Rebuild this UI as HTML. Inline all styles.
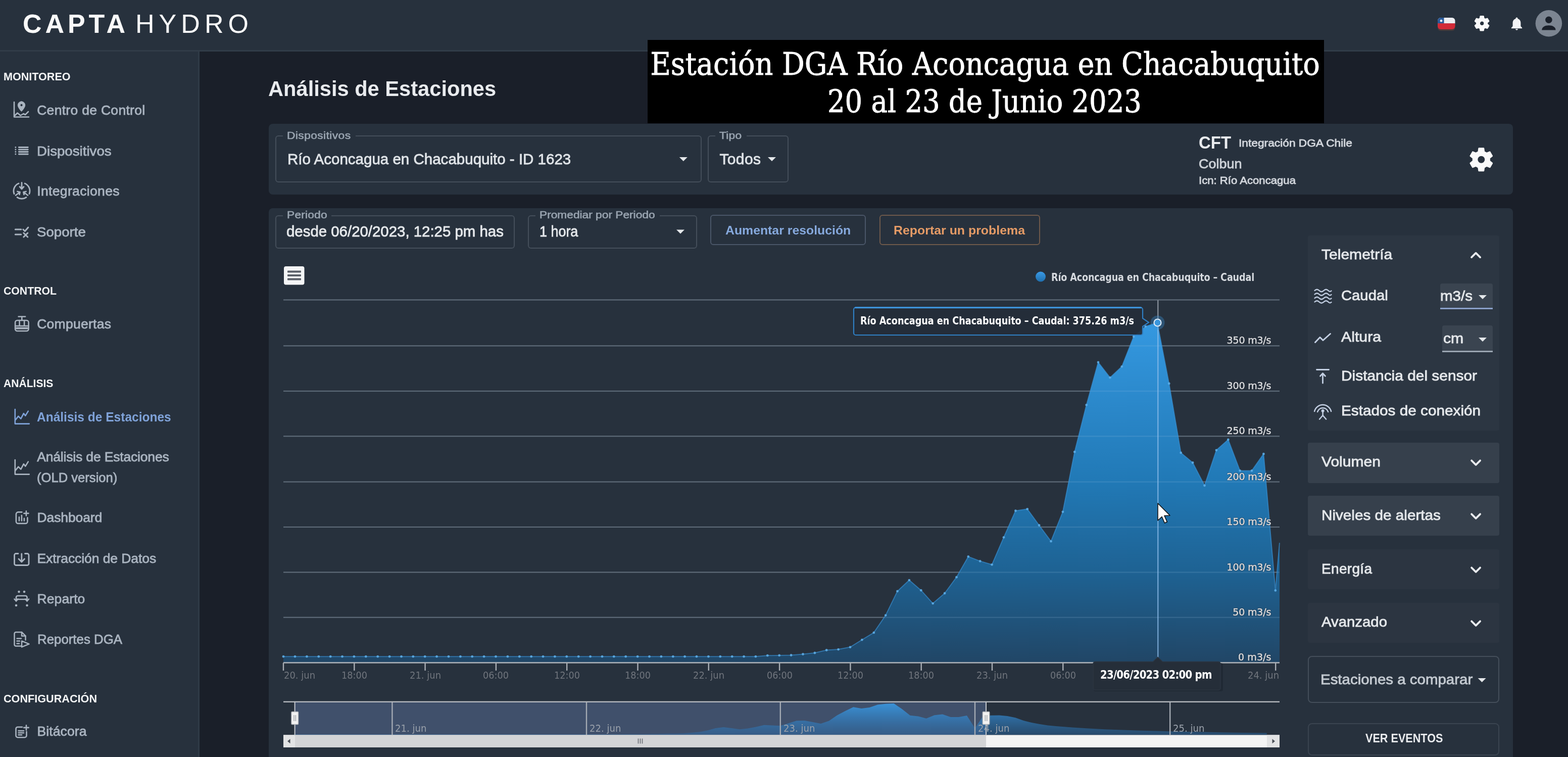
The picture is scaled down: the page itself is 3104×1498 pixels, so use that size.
<!DOCTYPE html>
<html lang="es"><head><meta charset="utf-8"><title>Captahydro - Análisis de Estaciones</title>
<style>
html,body{margin:0;padding:0}
body{width:3104px;height:1498px;overflow:hidden;background:#1a1f29;position:relative;font-family:"Liberation Sans",sans-serif}
.abs,.t,svg.ic{position:absolute}
.t{white-space:pre;line-height:1;transform-origin:0 50%;font-family:"Liberation Sans",sans-serif}
#header{left:0;top:0;width:3104px;height:99px;background:#27313d;border-bottom:3px solid #313c48}
#sidebar{left:0;top:102px;width:391.5px;height:1396px;background:#27313d;border-right:3.5px solid #2f3a46}
#banner{left:1281.5px;top:78.7px;width:1339px;height:165.2px;background:#000}
.card{background:#27313d;border-radius:8px}
#card1{left:532px;top:245px;width:2463px;height:140px}
#card2{left:532px;top:412px;width:2463px;height:1100px}
.field{border:2px solid #444e5a;border-radius:6px;box-sizing:border-box}
.lblbg{background:#27313d}
.panel{background:#343e4a;border-radius:4px}
.btn{box-sizing:border-box;border-radius:6px}
#texts{position:absolute;left:0;top:0;width:3104px;height:1498px}
#texts,#gfx{filter:blur(0.45px)}

</style></head>
<body>
<div id="header" class="abs"></div>
<div id="sidebar" class="abs"></div>
<div id="card1" class="abs card"></div>
<div id="card2" class="abs card"></div>
<div id="banner" class="abs"></div>
<!-- card1 fields -->
<div class="abs field" style="left:545px;top:268px;width:843.5px;height:92.6px"></div>
<div class="abs lblbg" style="left:560px;top:264px;width:144px;height:10px"></div>
<div class="abs field" style="left:1401px;top:268px;width:159.5px;height:92.6px"></div>
<div class="abs lblbg" style="left:1416px;top:264px;width:62px;height:10px"></div>
<!-- card2 fields -->
<div class="abs field" style="left:545px;top:426px;width:474px;height:66px"></div>
<div class="abs lblbg" style="left:560px;top:422px;width:96px;height:10px"></div>
<div class="abs field" style="left:1045px;top:426px;width:335px;height:66px"></div>
<div class="abs lblbg" style="left:1060px;top:422px;width:246px;height:10px"></div>
<div class="abs btn" style="left:1406px;top:425px;width:308px;height:60px;border:2px solid #4a5668"></div>
<div class="abs btn" style="left:1741px;top:425px;width:318px;height:60px;border:2px solid #6e594b"></div>
<!-- right panel -->
<div class="abs panel" style="left:2589px;top:466px;width:379px;height:386px;background:#2c3642"></div>
<div class="abs" style="left:2851px;top:561px;width:104px;height:48px;background:#3a4450;border-bottom:3px solid #8aa0c8;border-radius:4px 4px 0 0"></div>
<div class="abs" style="left:2855px;top:644px;width:100px;height:50px;background:#3a4450;border-bottom:3px solid #9aa5b1;border-radius:4px 4px 0 0"></div>
<div class="abs panel" style="left:2589px;top:876px;width:379px;height:80px;background:#36404c"></div>
<div class="abs panel" style="left:2589px;top:981px;width:379px;height:79px;background:#36404c"></div>
<div class="abs panel" style="left:2589px;top:1087px;width:379px;height:79px;background:#2c3541"></div>
<div class="abs panel" style="left:2589px;top:1193px;width:379px;height:79px;background:#2c3541"></div>
<div class="abs field" style="left:2589px;top:1298px;width:379px;height:93px;border-radius:8px"></div>
<div class="abs field" style="left:2589px;top:1431px;width:379px;height:63.5px;border-color:#3a4450;border-radius:8px"></div>
<svg id="gfx" class="abs" style="left:0;top:0" width="3104" height="1498" viewBox="0 0 3104 1498">
<defs><linearGradient id="ag" gradientUnits="userSpaceOnUse" x1="0" y1="593" x2="0" y2="1311"><stop offset="0" stop-color="#3aa0ea"/><stop offset="0.07" stop-color="#3498e0"/><stop offset="0.3" stop-color="#2a87c9"/><stop offset="0.5" stop-color="#2179b6"/><stop offset="0.75" stop-color="#1e6293"/><stop offset="1" stop-color="#214666"/></linearGradient><linearGradient id="ng" gradientUnits="userSpaceOnUse" x1="0" y1="1390" x2="0" y2="1455"><stop offset="0" stop-color="#3a9ae4"/><stop offset="1" stop-color="#2a6fae" stop-opacity="0.45"/></linearGradient><linearGradient id="lg" x1="0" y1="0" x2="0" y2="1"><stop offset="0" stop-color="#3a9ae6"/><stop offset="1" stop-color="#1f6fae"/></linearGradient></defs>
<rect x="561.0" y="592.4" width="1972.0" height="2" fill="#535a64"/>
<rect x="561.0" y="683.3" width="1972.0" height="2" fill="#535a64"/>
<rect x="561.0" y="772.9" width="1972.0" height="2" fill="#535a64"/>
<rect x="561.0" y="862.2" width="1972.0" height="2" fill="#535a64"/>
<rect x="561.0" y="952.5" width="1972.0" height="2" fill="#535a64"/>
<rect x="561.0" y="1041.9" width="1972.0" height="2" fill="#535a64"/>
<rect x="561.0" y="1131.4" width="1972.0" height="2" fill="#535a64"/>
<rect x="561.0" y="1220.7" width="1972.0" height="2" fill="#535a64"/>
<path d="M561.0,1311.3 L561.0,1299.2 L584.0,1299.2 L607.4,1299.2 L630.8,1299.2 L654.2,1299.2 L677.5,1299.2 L700.9,1299.2 L724.3,1299.2 L747.7,1299.2 L771.1,1299.2 L794.5,1299.2 L817.8,1299.2 L841.2,1299.2 L864.6,1299.2 L888.0,1299.2 L911.4,1299.2 L934.7,1299.2 L958.1,1299.2 L981.5,1299.2 L1004.9,1299.2 L1028.3,1299.2 L1051.7,1299.2 L1075.0,1299.2 L1098.4,1299.2 L1121.8,1299.2 L1145.2,1299.2 L1168.6,1299.2 L1192.0,1299.2 L1215.3,1299.2 L1238.7,1299.2 L1262.1,1299.2 L1285.5,1299.2 L1308.9,1299.2 L1332.3,1299.2 L1355.6,1299.2 L1379.0,1299.2 L1402.4,1299.2 L1425.8,1299.2 L1449.2,1299.2 L1472.6,1299.2 L1495.9,1299.2 L1519.3,1297.2 L1542.7,1296.9 L1566.1,1296.5 L1589.5,1294.5 L1612.9,1292.0 L1636.2,1286.5 L1659.6,1285.1 L1683.0,1280.6 L1706.4,1266.1 L1729.8,1251.9 L1753.2,1217.6 L1776.5,1169.9 L1799.9,1148.1 L1823.3,1168.2 L1846.7,1194.1 L1870.1,1174.0 L1893.5,1142.2 L1916.8,1101.4 L1940.2,1110.4 L1963.6,1117.3 L1987.0,1063.3 L2010.4,1010.7 L2033.7,1007.3 L2057.1,1039.5 L2080.5,1071.2 L2103.9,1012.8 L2127.3,894.2 L2150.7,801.3 L2174.0,716.8 L2197.4,747.2 L2220.8,725.3 L2244.2,666.1 L2267.6,645.9 L2291.0,638.5 L2314.3,759.0 L2337.7,895.9 L2361.1,915.5 L2384.5,960.8 L2407.9,890.8 L2431.3,869.9 L2454.6,931.4 L2478.0,931.4 L2501.4,898.2 L2524.8,1168.4 L2533.0,1074.2 L2533.0,1311.3 Z" fill="url(#ag)"/>
<rect x="561.0" y="592.3" width="1972.0" height="2.4" fill="#9fc4e6" opacity="0.16"/>
<rect x="561.0" y="683.2" width="1972.0" height="2.4" fill="#9fc4e6" opacity="0.16"/>
<rect x="561.0" y="772.8" width="1972.0" height="2.4" fill="#9fc4e6" opacity="0.16"/>
<rect x="561.0" y="862.1" width="1972.0" height="2.4" fill="#9fc4e6" opacity="0.16"/>
<rect x="561.0" y="952.4" width="1972.0" height="2.4" fill="#9fc4e6" opacity="0.16"/>
<rect x="561.0" y="1041.8" width="1972.0" height="2.4" fill="#9fc4e6" opacity="0.16"/>
<rect x="561.0" y="1131.3" width="1972.0" height="2.4" fill="#9fc4e6" opacity="0.16"/>
<rect x="561.0" y="1220.6" width="1972.0" height="2.4" fill="#9fc4e6" opacity="0.16"/>
<polyline points="561.0,1299.2 584.0,1299.2 607.4,1299.2 630.8,1299.2 654.2,1299.2 677.5,1299.2 700.9,1299.2 724.3,1299.2 747.7,1299.2 771.1,1299.2 794.5,1299.2 817.8,1299.2 841.2,1299.2 864.6,1299.2 888.0,1299.2 911.4,1299.2 934.7,1299.2 958.1,1299.2 981.5,1299.2 1004.9,1299.2 1028.3,1299.2 1051.7,1299.2 1075.0,1299.2 1098.4,1299.2 1121.8,1299.2 1145.2,1299.2 1168.6,1299.2 1192.0,1299.2 1215.3,1299.2 1238.7,1299.2 1262.1,1299.2 1285.5,1299.2 1308.9,1299.2 1332.3,1299.2 1355.6,1299.2 1379.0,1299.2 1402.4,1299.2 1425.8,1299.2 1449.2,1299.2 1472.6,1299.2 1495.9,1299.2 1519.3,1297.2 1542.7,1296.9 1566.1,1296.5 1589.5,1294.5 1612.9,1292.0 1636.2,1286.5 1659.6,1285.1 1683.0,1280.6 1706.4,1266.1 1729.8,1251.9 1753.2,1217.6 1776.5,1169.9 1799.9,1148.1 1823.3,1168.2 1846.7,1194.1 1870.1,1174.0 1893.5,1142.2 1916.8,1101.4 1940.2,1110.4 1963.6,1117.3 1987.0,1063.3 2010.4,1010.7 2033.7,1007.3 2057.1,1039.5 2080.5,1071.2 2103.9,1012.8 2127.3,894.2 2150.7,801.3 2174.0,716.8 2197.4,747.2 2220.8,725.3 2244.2,666.1 2267.6,645.9 2291.0,638.5 2314.3,759.0 2337.7,895.9 2361.1,915.5 2384.5,960.8 2407.9,890.8 2431.3,869.9 2454.6,931.4 2478.0,931.4 2501.4,898.2 2524.8,1168.4 2533.0,1074.2" fill="none" stroke="#3a96dc" stroke-width="2" stroke-linejoin="round" opacity="0.6"/>
<circle cx="561.0" cy="1299.2" r="2.4" fill="#5fb0ea" opacity="0.85"/>
<circle cx="584.0" cy="1299.2" r="2.4" fill="#5fb0ea" opacity="0.85"/>
<circle cx="607.4" cy="1299.2" r="2.4" fill="#5fb0ea" opacity="0.85"/>
<circle cx="630.8" cy="1299.2" r="2.4" fill="#5fb0ea" opacity="0.85"/>
<circle cx="654.2" cy="1299.2" r="2.4" fill="#5fb0ea" opacity="0.85"/>
<circle cx="677.5" cy="1299.2" r="2.4" fill="#5fb0ea" opacity="0.85"/>
<circle cx="700.9" cy="1299.2" r="2.4" fill="#5fb0ea" opacity="0.85"/>
<circle cx="724.3" cy="1299.2" r="2.4" fill="#5fb0ea" opacity="0.85"/>
<circle cx="747.7" cy="1299.2" r="2.4" fill="#5fb0ea" opacity="0.85"/>
<circle cx="771.1" cy="1299.2" r="2.4" fill="#5fb0ea" opacity="0.85"/>
<circle cx="794.5" cy="1299.2" r="2.4" fill="#5fb0ea" opacity="0.85"/>
<circle cx="817.8" cy="1299.2" r="2.4" fill="#5fb0ea" opacity="0.85"/>
<circle cx="841.2" cy="1299.2" r="2.4" fill="#5fb0ea" opacity="0.85"/>
<circle cx="864.6" cy="1299.2" r="2.4" fill="#5fb0ea" opacity="0.85"/>
<circle cx="888.0" cy="1299.2" r="2.4" fill="#5fb0ea" opacity="0.85"/>
<circle cx="911.4" cy="1299.2" r="2.4" fill="#5fb0ea" opacity="0.85"/>
<circle cx="934.7" cy="1299.2" r="2.4" fill="#5fb0ea" opacity="0.85"/>
<circle cx="958.1" cy="1299.2" r="2.4" fill="#5fb0ea" opacity="0.85"/>
<circle cx="981.5" cy="1299.2" r="2.4" fill="#5fb0ea" opacity="0.85"/>
<circle cx="1004.9" cy="1299.2" r="2.4" fill="#5fb0ea" opacity="0.85"/>
<circle cx="1028.3" cy="1299.2" r="2.4" fill="#5fb0ea" opacity="0.85"/>
<circle cx="1051.7" cy="1299.2" r="2.4" fill="#5fb0ea" opacity="0.85"/>
<circle cx="1075.0" cy="1299.2" r="2.4" fill="#5fb0ea" opacity="0.85"/>
<circle cx="1098.4" cy="1299.2" r="2.4" fill="#5fb0ea" opacity="0.85"/>
<circle cx="1121.8" cy="1299.2" r="2.4" fill="#5fb0ea" opacity="0.85"/>
<circle cx="1145.2" cy="1299.2" r="2.4" fill="#5fb0ea" opacity="0.85"/>
<circle cx="1168.6" cy="1299.2" r="2.4" fill="#5fb0ea" opacity="0.85"/>
<circle cx="1192.0" cy="1299.2" r="2.4" fill="#5fb0ea" opacity="0.85"/>
<circle cx="1215.3" cy="1299.2" r="2.4" fill="#5fb0ea" opacity="0.85"/>
<circle cx="1238.7" cy="1299.2" r="2.4" fill="#5fb0ea" opacity="0.85"/>
<circle cx="1262.1" cy="1299.2" r="2.4" fill="#5fb0ea" opacity="0.85"/>
<circle cx="1285.5" cy="1299.2" r="2.4" fill="#5fb0ea" opacity="0.85"/>
<circle cx="1308.9" cy="1299.2" r="2.4" fill="#5fb0ea" opacity="0.85"/>
<circle cx="1332.3" cy="1299.2" r="2.4" fill="#5fb0ea" opacity="0.85"/>
<circle cx="1355.6" cy="1299.2" r="2.4" fill="#5fb0ea" opacity="0.85"/>
<circle cx="1379.0" cy="1299.2" r="2.4" fill="#5fb0ea" opacity="0.85"/>
<circle cx="1402.4" cy="1299.2" r="2.4" fill="#5fb0ea" opacity="0.85"/>
<circle cx="1425.8" cy="1299.2" r="2.4" fill="#5fb0ea" opacity="0.85"/>
<circle cx="1449.2" cy="1299.2" r="2.4" fill="#5fb0ea" opacity="0.85"/>
<circle cx="1472.6" cy="1299.2" r="2.4" fill="#5fb0ea" opacity="0.85"/>
<circle cx="1495.9" cy="1299.2" r="2.4" fill="#5fb0ea" opacity="0.85"/>
<circle cx="1519.3" cy="1297.2" r="2.4" fill="#5fb0ea" opacity="0.85"/>
<circle cx="1542.7" cy="1296.9" r="2.4" fill="#5fb0ea" opacity="0.85"/>
<circle cx="1566.1" cy="1296.5" r="2.4" fill="#5fb0ea" opacity="0.85"/>
<circle cx="1589.5" cy="1294.5" r="2.4" fill="#5fb0ea" opacity="0.85"/>
<circle cx="1612.9" cy="1292.0" r="2.4" fill="#5fb0ea" opacity="0.85"/>
<circle cx="1636.2" cy="1286.5" r="2.4" fill="#5fb0ea" opacity="0.85"/>
<circle cx="1659.6" cy="1285.1" r="2.4" fill="#5fb0ea" opacity="0.85"/>
<circle cx="1683.0" cy="1280.6" r="2.4" fill="#5fb0ea" opacity="0.85"/>
<circle cx="1706.4" cy="1266.1" r="2.4" fill="#5fb0ea" opacity="0.85"/>
<circle cx="1729.8" cy="1251.9" r="2.4" fill="#5fb0ea" opacity="0.85"/>
<circle cx="1753.2" cy="1217.6" r="2.4" fill="#5fb0ea" opacity="0.85"/>
<circle cx="1776.5" cy="1169.9" r="2.4" fill="#5fb0ea" opacity="0.85"/>
<circle cx="1799.9" cy="1148.1" r="2.4" fill="#5fb0ea" opacity="0.85"/>
<circle cx="1823.3" cy="1168.2" r="2.4" fill="#5fb0ea" opacity="0.85"/>
<circle cx="1846.7" cy="1194.1" r="2.4" fill="#5fb0ea" opacity="0.85"/>
<circle cx="1870.1" cy="1174.0" r="2.4" fill="#5fb0ea" opacity="0.85"/>
<circle cx="1893.5" cy="1142.2" r="2.4" fill="#5fb0ea" opacity="0.85"/>
<circle cx="1916.8" cy="1101.4" r="2.4" fill="#5fb0ea" opacity="0.85"/>
<circle cx="1940.2" cy="1110.4" r="2.4" fill="#5fb0ea" opacity="0.85"/>
<circle cx="1963.6" cy="1117.3" r="2.4" fill="#5fb0ea" opacity="0.85"/>
<circle cx="1987.0" cy="1063.3" r="2.4" fill="#5fb0ea" opacity="0.85"/>
<circle cx="2010.4" cy="1010.7" r="2.4" fill="#5fb0ea" opacity="0.85"/>
<circle cx="2033.7" cy="1007.3" r="2.4" fill="#5fb0ea" opacity="0.85"/>
<circle cx="2057.1" cy="1039.5" r="2.4" fill="#5fb0ea" opacity="0.85"/>
<circle cx="2080.5" cy="1071.2" r="2.4" fill="#5fb0ea" opacity="0.85"/>
<circle cx="2103.9" cy="1012.8" r="2.4" fill="#5fb0ea" opacity="0.85"/>
<circle cx="2127.3" cy="894.2" r="2.4" fill="#5fb0ea" opacity="0.85"/>
<circle cx="2150.7" cy="801.3" r="2.4" fill="#5fb0ea" opacity="0.85"/>
<circle cx="2174.0" cy="716.8" r="2.4" fill="#5fb0ea" opacity="0.85"/>
<circle cx="2197.4" cy="747.2" r="2.4" fill="#5fb0ea" opacity="0.85"/>
<circle cx="2220.8" cy="725.3" r="2.4" fill="#5fb0ea" opacity="0.85"/>
<circle cx="2244.2" cy="666.1" r="2.4" fill="#5fb0ea" opacity="0.85"/>
<circle cx="2267.6" cy="645.9" r="2.4" fill="#5fb0ea" opacity="0.85"/>
<circle cx="2291.0" cy="638.5" r="2.4" fill="#5fb0ea" opacity="0.85"/>
<circle cx="2314.3" cy="759.0" r="2.4" fill="#5fb0ea" opacity="0.85"/>
<circle cx="2337.7" cy="895.9" r="2.4" fill="#5fb0ea" opacity="0.85"/>
<circle cx="2361.1" cy="915.5" r="2.4" fill="#5fb0ea" opacity="0.85"/>
<circle cx="2384.5" cy="960.8" r="2.4" fill="#5fb0ea" opacity="0.85"/>
<circle cx="2407.9" cy="890.8" r="2.4" fill="#5fb0ea" opacity="0.85"/>
<circle cx="2431.3" cy="869.9" r="2.4" fill="#5fb0ea" opacity="0.85"/>
<circle cx="2454.6" cy="931.4" r="2.4" fill="#5fb0ea" opacity="0.85"/>
<circle cx="2478.0" cy="931.4" r="2.4" fill="#5fb0ea" opacity="0.85"/>
<circle cx="2501.4" cy="898.2" r="2.4" fill="#5fb0ea" opacity="0.85"/>
<circle cx="2524.8" cy="1168.4" r="2.4" fill="#5fb0ea" opacity="0.85"/>
<rect x="561.0" y="1310.1" width="1972.0" height="2.6" fill="#a9aeb5"/>
<rect x="559.8" y="1311.5" width="2.4" height="15.5" fill="#a9aeb5"/>
<rect x="700.1" y="1311.5" width="2.4" height="15.5" fill="#a9aeb5"/>
<rect x="840.4" y="1311.5" width="2.4" height="15.5" fill="#a9aeb5"/>
<rect x="980.7" y="1311.5" width="2.4" height="15.5" fill="#a9aeb5"/>
<rect x="1121.0" y="1311.5" width="2.4" height="15.5" fill="#a9aeb5"/>
<rect x="1261.3" y="1311.5" width="2.4" height="15.5" fill="#a9aeb5"/>
<rect x="1401.6" y="1311.5" width="2.4" height="15.5" fill="#a9aeb5"/>
<rect x="1541.9" y="1311.5" width="2.4" height="15.5" fill="#a9aeb5"/>
<rect x="1682.2" y="1311.5" width="2.4" height="15.5" fill="#a9aeb5"/>
<rect x="1822.5" y="1311.5" width="2.4" height="15.5" fill="#a9aeb5"/>
<rect x="1962.8" y="1311.5" width="2.4" height="15.5" fill="#a9aeb5"/>
<rect x="2103.1" y="1311.5" width="2.4" height="15.5" fill="#a9aeb5"/>
<rect x="2524.0" y="1311.5" width="2.4" height="15.5" fill="#a9aeb5"/>
<rect x="2291.2" y="594" width="2.2" height="45" fill="#8a939e"/><rect x="2291.2" y="639" width="2.2" height="672" fill="#8fbdea" opacity="0.8"/>
<circle cx="2291.5" cy="638.5" r="14" fill="#3a96dc" opacity="0.35"/><circle cx="2291.5" cy="638.5" r="7" fill="#3a96dc" stroke="#dfe9f5" stroke-width="2.2"/>
<path d="M1694,608.5 H2258 a4,4 0 0 1 4,4 V630 l12,8 l-12,8 V659 a4,4 0 0 1 -4,4 H1694 a4,4 0 0 1 -4,-4 V612.5 a4,4 0 0 1 4,-4 Z" fill="#242d38" fill-opacity="0.92" stroke="#2f7fc4" stroke-width="2.2"/><rect x="1692" y="607.2" width="568" height="3" rx="1.5" fill="#3f97e0"/>
<path d="M2169,1312 H2417 a4,4 0 0 1 4,4 V1364 a4,4 0 0 1 -4,4 H2169 a4,4 0 0 1 -4,-4 V1316 a4,4 0 0 1 4,-4 Z" fill="#1d242e" opacity="0.6"/>
<path d="M2168,1309.5 H2282.5 l9.5,-9 l9.5,9 H2412 a4,4 0 0 1 4,4 V1361.5 a4,4 0 0 1 -4,4 H2168 a4,4 0 0 1 -4,-4 V1313.5 a4,4 0 0 1 4,-4 Z" fill="#252e39" stroke="#2c3642" stroke-width="1.5"/>
<circle cx="2060" cy="547.5" r="10" fill="url(#lg)"/>
<rect x="562" y="527" width="40.5" height="36.5" rx="4" fill="#f4f5f6"/>
<rect x="569" y="535.5" width="27" height="4" rx="1" fill="#5b6069"/>
<rect x="569" y="543.0" width="27" height="4" rx="1" fill="#5b6069"/>
<rect x="569" y="550.5" width="27" height="4" rx="1" fill="#5b6069"/>
<rect x="583.6" y="1389.0" width="1368.4" height="65.0" fill="#40506b"/>
<path d="M581.8,1454.0 L581.8,1453.0 L597.8,1453.0 L613.9,1453.0 L629.9,1453.0 L646.0,1453.0 L662.0,1453.0 L678.1,1453.0 L694.1,1453.0 L710.2,1453.0 L726.2,1453.0 L742.3,1453.0 L758.3,1453.0 L774.4,1453.0 L790.4,1453.0 L806.5,1453.0 L822.5,1453.0 L838.6,1453.0 L854.6,1453.0 L870.7,1453.0 L886.7,1453.0 L902.8,1453.0 L918.8,1453.0 L934.9,1453.0 L950.9,1453.0 L967.0,1453.0 L983.0,1453.0 L999.1,1453.0 L1015.1,1453.0 L1031.2,1453.0 L1047.2,1453.0 L1063.3,1453.0 L1079.3,1453.0 L1095.4,1453.0 L1111.4,1453.0 L1127.5,1453.0 L1143.5,1453.0 L1159.6,1453.0 L1175.6,1453.0 L1191.7,1453.0 L1207.8,1453.0 L1223.8,1453.0 L1239.8,1452.8 L1255.9,1452.7 L1271.9,1452.7 L1288.0,1452.5 L1304.0,1452.3 L1320.1,1451.8 L1336.1,1451.7 L1352.2,1451.2 L1368.2,1449.9 L1384.3,1448.6 L1400.3,1445.4 L1416.4,1441.0 L1432.5,1439.0 L1448.5,1440.9 L1464.5,1443.3 L1480.6,1441.4 L1496.6,1438.5 L1512.7,1434.7 L1528.8,1435.5 L1544.8,1436.2 L1560.8,1431.2 L1576.9,1426.3 L1593.0,1426.0 L1609.0,1429.0 L1625.0,1431.9 L1641.1,1426.5 L1657.1,1415.6 L1673.2,1407.0 L1689.2,1399.2 L1705.3,1402.0 L1721.3,1400.0 L1737.4,1394.6 L1753.5,1392.7 L1769.5,1392.0 L1785.5,1403.1 L1801.6,1415.8 L1817.7,1417.6 L1833.7,1421.7 L1849.8,1415.3 L1865.8,1413.4 L1881.8,1419.0 L1897.9,1419.0 L1914.0,1416.0 L1930.0,1440.9 L1946.0,1416.9 L1962.1,1415.7 L1978.2,1415.6 L1994.2,1416.9 L2010.2,1420.2 L2026.3,1426.0 L2042.3,1430.1 L2058.4,1432.9 L2074.4,1435.4 L2090.5,1437.0 L2122.6,1439.5 L2154.7,1441.6 L2186.8,1443.3 L2251.0,1445.4 L2315.2,1447.2 L2379.4,1448.6 L2443.6,1449.7 L2507.8,1450.4 L2507.8,1454.0 Z" fill="url(#ng)" opacity="0.92"/>
<rect x="775.2" y="1389.0" width="2.4" height="65.0" fill="#a4aab3"/>
<rect x="1159.8" y="1389.0" width="2.4" height="65.0" fill="#a4aab3"/>
<rect x="1543.6" y="1389.0" width="2.4" height="65.0" fill="#a4aab3"/>
<rect x="1928.8" y="1389.0" width="2.4" height="65.0" fill="#a4aab3"/>
<rect x="2315.0" y="1389.0" width="2.4" height="65.0" fill="#a4aab3"/>
<rect x="561.0" y="1387.6" width="1972.0" height="2.4" fill="#b4b8be"/>
<rect x="582.6" y="1389.0" width="2" height="65.0" fill="#c4c8ce"/>
<rect x="1951" y="1389.0" width="2" height="65.0" fill="#c4c8ce"/>
<rect x="576.9" y="1408.5" width="13.6" height="25" rx="1.5" fill="#f2f2f2" stroke="#b0b3b8" stroke-width="1.5"/>
<rect x="581.3" y="1415" width="1.4" height="12" fill="#9a9da2"/><rect x="584.7" y="1415" width="1.4" height="12" fill="#9a9da2"/>
<rect x="1945.2" y="1408.5" width="13.6" height="25" rx="1.5" fill="#f2f2f2" stroke="#b0b3b8" stroke-width="1.5"/>
<rect x="1949.6" y="1415" width="1.4" height="12" fill="#9a9da2"/><rect x="1953.0" y="1415" width="1.4" height="12" fill="#9a9da2"/>
<rect x="561" y="1454.4" width="1972" height="24.6" fill="#f4f4f4"/>
<rect x="583.6" y="1454.4" width="1368.4" height="24.6" fill="#d3d4d6"/>
<rect x="561" y="1454.4" width="22.6" height="24.6" fill="#e2e3e4"/>
<rect x="2508" y="1454.4" width="25" height="24.6" fill="#e2e3e4"/>
<path d="M574.5,1462.2 l-5.5,4.5 l5.5,4.5 Z" fill="#4a4f57"/><path d="M2518.5,1462.2 l5.5,4.5 l-5.5,4.5 Z" fill="#4a4f57"/>
<rect x="1262.7" y="1461.5" width="1.6" height="10" fill="#6a6e75"/>
<rect x="1266.7" y="1461.5" width="1.6" height="10" fill="#6a6e75"/>
<rect x="1270.7" y="1461.5" width="1.6" height="10" fill="#6a6e75"/>
<path d="M2292,996 l0,34 l8,-7.5 l5.5,12.5 l5,-2.2 l-5.5,-12.3 l11,-0.5 Z" fill="#fff" stroke="#111" stroke-width="1.6" stroke-linejoin="round"/>
<g transform="translate(26.5,200.0)" stroke="#aab4c0" stroke-width="2.6" fill="none" stroke-linecap="round" stroke-linejoin="round"><path d="M1.5,2 V31.5 H30.5"/><path d="M3,28.5 L8,23.5 L14,28.5 L20,25 L23.5,27 L29.5,21"/><path d="M16,0.8 a7.2,7.2 0 0 1 7.2,7.2 c0,5.2 -7.2,12.6 -7.2,12.6 c0,0 -7.2,-7.4 -7.2,-12.6 a7.2,7.2 0 0 1 7.2,-7.2 Z M16,5.4 a2.6,2.6 0 1 0 0.01,0 Z" fill="#aab4c0" fill-rule="evenodd" stroke-width="1"/></g>
<g transform="translate(29.3,290.0)" stroke="#aab4c0" stroke-width="2.8" fill="none" stroke-linecap="round" stroke-linejoin="round"><path d="M1.5,1.5 h0.1 M8,1.5 H26"/><path d="M1.5,6 h0.1 M8,6 H26"/><path d="M1.5,10.5 h0.1 M8,10.5 H26"/><path d="M1.5,15 h0.1 M8,15 H26"/></g>
<g transform="translate(43.0,377.5)" stroke="#aab4c0" stroke-width="2.8" fill="none" stroke-linecap="round" stroke-linejoin="round"><path d="M-6,-14.5 A16,16 0 0 0 -15,6"/><path d="M6,-14.5 A16,16 0 0 1 15,6"/><path d="M-9,13 A16,16 0 0 0 9,13"/><path d="M0,-16 V-4 M-4,-8 L0,-3.5 L4,-8"/><path d="M-12,9 L-4,3 M-8.5,1.5 L-3.5,2.5 L-4.5,7.5"/><path d="M12,9 L4,3 M8.5,1.5 L3.5,2.5 L4.5,7.5"/></g>
<g transform="translate(28.8,448.0)" stroke="#aab4c0" stroke-width="3" fill="none" stroke-linecap="round" stroke-linejoin="round"><path d="M1.5,6 H13 M1.5,16 H13"/><path d="M17,6 L20.5,9.5 L27,2"/><path d="M18,13 L26,21 M26,13 L18,21"/></g>
<g transform="translate(28.6,625.0)" stroke="#aab4c0" stroke-width="2.6" fill="none" stroke-linecap="round" stroke-linejoin="round"><path d="M8,1.5 H21.5 M14.7,1.5 V9"/><rect x="1.5" y="9" width="26.5" height="21" rx="4"/><path d="M1.5,20 H28 M10,9 V20 M19.5,9 V20"/><path d="M4,24.5 H25.5" stroke-width="4"/></g>
<g transform="translate(27.8,808.6)" stroke="#7fa2d8" stroke-width="2.6" fill="none" stroke-linecap="round" stroke-linejoin="round"><path d="M2,1.5 V30 H30"/><path d="M3,22 L8.5,15 L13.5,20 L19,9.5 L22.5,14 L28,5"/></g>
<g transform="translate(27.8,908.6)" stroke="#aab4c0" stroke-width="2.6" fill="none" stroke-linecap="round" stroke-linejoin="round"><path d="M2,1.5 V30 H30"/><path d="M3,22 L8.5,15 L13.5,20 L19,9.5 L22.5,14 L28,5"/></g>
<g transform="translate(30.4,1010.4)" stroke="#aab4c0" stroke-width="2.6" fill="none" stroke-linecap="round" stroke-linejoin="round"><path d="M13,3 H5.5 a4,4 0 0 0 -4,4 V21.5 a4,4 0 0 0 4,4 H20 a4,4 0 0 0 4,-4 V14"/><path d="M7.5,13 V20 M12.5,9.5 V20 M17.5,15.5 V20"/><path d="M21.5,1 V10 M17,5.5 H26"/></g>
<g transform="translate(27.0,1094.0)" stroke="#aab4c0" stroke-width="2.8" fill="none" stroke-linecap="round" stroke-linejoin="round"><path d="M9,1.5 H4.5 a3,3 0 0 0 -3,3 V21.5 a3,3 0 0 0 3,3 H27 a3,3 0 0 0 3,-3 V4.5 a3,3 0 0 0 -3,-3 H22.5"/><path d="M15.8,2 V17 M10,12 L15.8,18 L21.5,12"/></g>
<g transform="translate(27.0,1168.0)" stroke="#aab4c0" stroke-width="2.6" fill="none" stroke-linecap="round" stroke-linejoin="round"><circle cx="10.5" cy="3" r="2.3" fill="#aab4c0" stroke="none"/><circle cx="21" cy="3" r="2.3" fill="#aab4c0" stroke="none"/><circle cx="5" cy="30" r="2.3" fill="#aab4c0" stroke="none"/><circle cx="26.5" cy="30" r="2.3" fill="#aab4c0" stroke="none"/><path d="M5,18 H26.5 M8,11 H23.5 a3,3 0 0 1 3,3 V21 M5,21 V14 a3,3 0 0 1 3,-3"/><path d="M1.5,17.5 L5,21.5 L8.5,17.5 M23,17.5 L26.5,21.5 L30,17.5"/></g>
<g transform="translate(27.0,1249.4)" stroke="#aab4c0" stroke-width="2.5" fill="none" stroke-linecap="round" stroke-linejoin="round"><path d="M16,29 H4.5 a3,3 0 0 1 -3,-3 V4.5 a3,3 0 0 1 3,-3 H16 L23.5,9 V17"/><path d="M16,1.5 V9 H23.5"/><path d="M6.5,14 H15 M6.5,19 H12 M6.5,24 H11"/><path d="M16,19 L30.5,25 L16,31 Z"/></g>
<g transform="translate(30.0,1434.7)" stroke="#aab4c0" stroke-width="2.6" fill="none" stroke-linecap="round" stroke-linejoin="round"><path d="M14,4 H5 a3.5,3.5 0 0 0 -3.5,3.5 V21 a3.5,3.5 0 0 0 3.5,3.5 H19 a3.5,3.5 0 0 0 3.5,-3.5 V13"/><path d="M6.5,11.5 H17 M6.5,15.5 H17 M6.5,19.5 H13"/><path d="M22,0.5 V10 M17.3,5.2 H26.7"/></g>
<g><rect x="2846" y="37.5" width="34.5" height="23.5" rx="6" fill="#4b3a3a"/><path d="M2846,46.5 V41 a6,6 0 0 1 6,-6 H2874.5 a6,6 0 0 1 6,6 V46.5 Z" fill="#eceef2"/><path d="M2846,46.5 V41 a6,6 0 0 1 6,-6 H2858.5 V46.5 Z" fill="#2a5a9a"/><circle cx="2853" cy="41.2" r="2.4" fill="#e8eef8"/><path d="M2846,46.3 H2880.5 V52 a6,6 0 0 1 -6,6 H2852 a6,6 0 0 1 -6,-6 Z" fill="#d22a38"/></g>
<path d="M2930.17,36.59 L2930.82,32.58 L2936.38,32.58 L2937.03,36.59 L2940.29,38.47 L2944.09,37.03 L2946.87,41.85 L2943.73,44.42 L2943.73,48.18 L2946.87,50.75 L2944.09,55.57 L2940.29,54.13 L2937.03,56.01 L2936.38,60.02 L2930.82,60.02 L2930.17,56.01 L2926.91,54.13 L2923.11,55.57 L2920.33,50.75 L2923.47,48.18 L2923.47,44.42 L2920.33,41.85 L2923.11,37.03 L2926.91,38.47 Z M2928.40,46.30 a5.20,5.20 0 1 0 10.40,0 a5.20,5.20 0 1 0 -10.40,0 Z" fill="#fafafa" fill-rule="evenodd" stroke="#fafafa" stroke-width="3" stroke-linejoin="round"/>
<path transform="translate(3002.5,46.8) scale(0.9) translate(-3002.5,-46.8)" d="M3002.5,33 c1.3,0 2.2,0.9 2.2,2.2 v0.6 c4.2,1.2 6.6,4.8 6.6,9.4 v7.5 l3,3 v1.6 h-23.6 v-1.6 l3,-3 v-7.5 c0,-4.6 2.4,-8.2 6.6,-9.4 v-0.6 c0,-1.3 0.9,-2.2 2.2,-2.2 Z M2999.8,58.5 h5.4 a2.7,2.7 0 0 1 -5.4,0 Z" fill="#f2f3f5"/>
<circle cx="3065.9" cy="46.3" r="26.3" fill="#7c8591"/><circle cx="3065.9" cy="39.3" r="6.8" fill="#1a202a"/><path d="M3052.2,59.5 c0,-6 6,-9.3 13.7,-9.3 s13.7,3.3 13.7,9.3 Z" fill="#1a202a"/>
<path d="M2926.86,300.43 L2927.83,293.75 L2936.77,293.75 L2937.74,300.43 L2942.89,303.41 L2949.16,300.90 L2953.63,308.65 L2948.33,312.82 L2948.33,318.78 L2953.63,322.95 L2949.16,330.70 L2942.89,328.19 L2937.74,331.17 L2936.77,337.85 L2927.83,337.85 L2926.86,331.17 L2921.71,328.19 L2915.44,330.70 L2910.97,322.95 L2916.27,318.78 L2916.27,312.82 L2910.97,308.65 L2915.44,300.90 L2921.71,303.41 Z M2923.80,315.80 a8.50,8.50 0 1 0 17.00,0 a8.50,8.50 0 1 0 -17.00,0 Z" fill="#fafafa" fill-rule="evenodd" stroke="#fafafa" stroke-width="3" stroke-linejoin="round"/>
<path d="M1344.8,311.0 h16.0 l-8.0,8.0 Z" fill="#e4e7ea"/>
<path d="M1520.0,311.0 h16.0 l-8.0,8.0 Z" fill="#e4e7ea"/>
<path d="M1339.0,454.5 h16.0 l-8.0,8.0 Z" fill="#e4e7ea"/>
<path d="M2927.0,584.0 h16.0 l-8.0,8.0 Z" fill="#e4e7ea"/>
<path d="M2927.0,668.0 h16.0 l-8.0,8.0 Z" fill="#e4e7ea"/>
<path d="M2925.6,1342.0 h16.0 l-8.0,8.0 Z" fill="#e4e7ea"/>
<path d="M2913.1,509.2 l8.5,-8.5 l8.5,8.5" fill="none" stroke="#e9ebee" stroke-width="3.8" stroke-linecap="round" stroke-linejoin="round"/>
<path d="M2913.1,911.3 l8.5,8.5 l8.5,-8.5" fill="none" stroke="#e9ebee" stroke-width="3.8" stroke-linecap="round" stroke-linejoin="round"/>
<path d="M2913.1,1017.3 l8.5,8.5 l8.5,-8.5" fill="none" stroke="#e9ebee" stroke-width="3.8" stroke-linecap="round" stroke-linejoin="round"/>
<path d="M2913.1,1123.3 l8.5,8.5 l8.5,-8.5" fill="none" stroke="#e9ebee" stroke-width="3.8" stroke-linecap="round" stroke-linejoin="round"/>
<path d="M2913.1,1229.3 l8.5,8.5 l8.5,-8.5" fill="none" stroke="#e9ebee" stroke-width="3.8" stroke-linecap="round" stroke-linejoin="round"/>
<g transform="translate(2601.0,571.0)" stroke="#c3cfe2" stroke-width="2.4" fill="none" stroke-linecap="round" stroke-linejoin="round"><path d="M1.5,4 c3,-3 6,-3 9,0 s6,3 9,0 s6,-3 9,0 s4.5,2 6,0.5"/><path d="M1.5,11.5 c3,-3 6,-3 9,0 s6,3 9,0 s6,-3 9,0 s4.5,2 6,0.5"/><path d="M1.5,19 c3,-3 6,-3 9,0 s6,3 9,0 s6,-3 9,0 s4.5,2 6,0.5"/><path d="M1.5,26.5 c3,-3 6,-3 9,0 s6,3 9,0 s6,-3 9,0 s4.5,2 6,0.5"/></g>
<g transform="translate(2602.0,659.0)" stroke="#c3cfe2" stroke-width="3" fill="none" stroke-linecap="round" stroke-linejoin="round"><path d="M1.5,18.5 L11,8.5 L17,14.5 L31.5,1.5"/></g>
<g transform="translate(2605.0,729.7)" stroke="#c3cfe2" stroke-width="2.8" fill="none" stroke-linecap="round" stroke-linejoin="round"><path d="M1.5,1.8 H25.5"/><path d="M13.5,28.5 V9.5 M8.5,14.5 L13.5,9 L18.5,14.5"/></g>
<g transform="translate(2618.6,812.0)" stroke="#c3cfe2" stroke-width="2.5" fill="none" stroke-linecap="round" stroke-linejoin="round"><path d="M-16.5,2 A17,17 0 0 1 16.5,2"/><path d="M-10.5,3 A11,11 0 0 1 10.5,3"/><circle cx="0" cy="1" r="3" fill="#c3cfe2" stroke="none"/><path d="M0,4 V11 M0,10 L-6.5,17.5 M0,10 L6.5,17.5"/></g>
</svg>

<div id="texts">
<span class="t" style="left:45.0px;top:20.8px;font-size:52px;color:#fafafa;font-weight:700;letter-spacing:6.94px;">CAPTA</span>
<span class="t" style="left:268.0px;top:20.8px;font-size:52px;color:#fafafa;letter-spacing:9.05px;">HYDRO</span>
<span class="t" style="left:7.0px;top:141.3px;font-size:22px;color:#f4f5f6;font-weight:700;transform:scaleX(0.980);">MONITOREO</span>
<span class="t" style="left:7.0px;top:565.3px;font-size:22px;color:#f4f5f6;font-weight:700;transform:scaleX(0.965);">CONTROL</span>
<span class="t" style="left:7.0px;top:748.3px;font-size:22px;color:#f4f5f6;font-weight:700;transform:scaleX(0.958);">ANÁLISIS</span>
<span class="t" style="left:7.0px;top:1372.3px;font-size:22px;color:#f4f5f6;font-weight:700;transform:scaleX(0.983);">CONFIGURACIÓN</span>
<span class="t" style="left:73.2px;top:205.0px;font-size:26.5px;color:#aab4c0;letter-spacing:0.30px;-webkit-text-stroke:0.8px currentColor;">Centro de Control</span>
<span class="t" style="left:73.2px;top:285.5px;font-size:26.5px;color:#aab4c0;transform:scaleX(1.044);-webkit-text-stroke:0.8px currentColor;">Dispositivos</span>
<span class="t" style="left:73.2px;top:365.4px;font-size:26.5px;color:#aab4c0;letter-spacing:0.35px;-webkit-text-stroke:0.8px currentColor;">Integraciones</span>
<span class="t" style="left:73.2px;top:446.3px;font-size:26.5px;color:#aab4c0;transform:scaleX(1.043);-webkit-text-stroke:0.8px currentColor;">Soporte</span>
<span class="t" style="left:73.2px;top:628.2px;font-size:26.5px;color:#aab4c0;letter-spacing:0.27px;-webkit-text-stroke:0.8px currentColor;">Compuertas</span>
<span class="t" style="left:73.2px;top:811.6px;font-size:26.5px;color:#7fa2d8;font-weight:700;transform:scaleX(0.925);">Análisis de Estaciones</span>
<span class="t" style="left:73.2px;top:890.9px;font-size:26.5px;color:#aab4c0;letter-spacing:-0.17px;-webkit-text-stroke:0.8px currentColor;">Análisis de Estaciones</span>
<span class="t" style="left:73.2px;top:932.0px;font-size:26.5px;color:#aab4c0;transform:scaleX(0.966);-webkit-text-stroke:0.8px currentColor;">(OLD version)</span>
<span class="t" style="left:73.5px;top:1011.2px;font-size:26.5px;color:#aab4c0;letter-spacing:-0.11px;-webkit-text-stroke:0.8px currentColor;">Dashboard</span>
<span class="t" style="left:73.5px;top:1092.0px;font-size:26.5px;color:#aab4c0;letter-spacing:-0.08px;-webkit-text-stroke:0.8px currentColor;">Extracción de Datos</span>
<span class="t" style="left:73.5px;top:1171.8px;font-size:26.5px;color:#aab4c0;letter-spacing:0.09px;-webkit-text-stroke:0.8px currentColor;">Reparto</span>
<span class="t" style="left:73.5px;top:1252.4px;font-size:26.5px;color:#aab4c0;transform:scaleX(0.975);-webkit-text-stroke:0.8px currentColor;">Reportes DGA</span>
<span class="t" style="left:73.5px;top:1434.3px;font-size:26.5px;color:#aab4c0;letter-spacing:0.11px;-webkit-text-stroke:0.8px currentColor;">Bitácora</span>
<span class="t" style="left:531.0px;top:154.4px;font-size:43px;color:#e9ebee;font-weight:700;transform:scaleX(0.968);">Análisis de Estaciones</span>
<span class="t" style="left:1287.2px;top:95.7px;font-size:62px;color:#fff;font-family:'DejaVu Serif Condensed', 'DejaVu Serif', 'Liberation Serif', serif;letter-spacing:-0.05px;-webkit-text-stroke:0.8px currentColor;">Estación DGA Río Aconcagua en Chacabuquito</span>
<span class="t" style="left:1638.4px;top:169.7px;font-size:62px;color:#fff;font-family:'DejaVu Serif Condensed', 'DejaVu Serif', 'Liberation Serif', serif;transform:scaleX(0.975);-webkit-text-stroke:0.8px currentColor;">20 al 23 de Junio 2023</span>
<span class="t" style="left:568.0px;top:258.0px;font-size:20px;color:#9aa5b1;letter-spacing:0.35px;transform:scaleX(1.140);-webkit-text-stroke:0.6px currentColor;">Dispositivos</span>
<span class="t" style="left:569.0px;top:300.3px;font-size:30px;color:#dfe3e7;transform:scaleX(0.984);-webkit-text-stroke:0.8px currentColor;">Río Aconcagua en Chacabuquito - ID 1623</span>
<span class="t" style="left:1424.4px;top:258.0px;font-size:20px;color:#9aa5b1;letter-spacing:0.20px;transform:scaleX(1.140);-webkit-text-stroke:0.6px currentColor;">Tipo</span>
<span class="t" style="left:1424.4px;top:300.3px;font-size:30px;color:#dfe3e7;letter-spacing:0.38px;-webkit-text-stroke:0.8px currentColor;">Todos</span>
<span class="t" style="left:2373.0px;top:263.9px;font-size:35px;color:#e9ebee;font-weight:700;transform:scaleX(0.941);">CFT</span>
<span class="t" style="left:2452.0px;top:272.1px;font-size:21px;color:#d2d6dc;transform:scaleX(1.083);-webkit-text-stroke:0.8px currentColor;">Integración DGA Chile</span>
<span class="t" style="left:2373.0px;top:311.8px;font-size:25px;color:#cdd2d8;transform:scaleX(1.080);-webkit-text-stroke:0.8px currentColor;">Colbun</span>
<span class="t" style="left:2373.0px;top:346.1px;font-size:21px;color:#d2d6dc;transform:scaleX(1.054);-webkit-text-stroke:0.8px currentColor;">Icn: Río Aconcagua</span>
<span class="t" style="left:568.0px;top:415.0px;font-size:20px;color:#9aa5b1;letter-spacing:0.15px;transform:scaleX(1.140);-webkit-text-stroke:0.6px currentColor;">Periodo</span>
<span class="t" style="left:567.0px;top:443.1px;font-size:30px;color:#e4e7ea;transform:scaleX(0.980);-webkit-text-stroke:0.8px currentColor;">desde 06/20/2023, 12:25 pm has</span>
<span class="t" style="left:1068.4px;top:415.0px;font-size:20px;color:#9aa5b1;transform:scaleX(1.136);-webkit-text-stroke:0.6px currentColor;">Promediar por Periodo</span>
<span class="t" style="left:1068.4px;top:443.1px;font-size:30px;color:#e4e7ea;letter-spacing:-0.04px;transform:scaleX(0.900);-webkit-text-stroke:0.8px currentColor;">1 hora</span>
<span class="t" style="left:1435.6px;top:443.6px;font-size:24px;color:#86a9dd;font-weight:700;transform:scaleX(1.034);">Aumentar resolución</span>
<span class="t" style="left:1769.0px;top:443.6px;font-size:24px;color:#e59b66;font-weight:700;transform:scaleX(1.037);">Reportar un problema</span>
<span class="t" style="left:2616.0px;top:490.2px;font-size:28px;color:#e4e7ea;transform:scaleX(1.073);-webkit-text-stroke:0.8px currentColor;">Telemetría</span>
<span class="t" style="left:2654.7px;top:570.7px;font-size:28px;color:#e4e7ea;transform:scaleX(1.044);-webkit-text-stroke:0.8px currentColor;">Caudal</span>
<span class="t" style="left:2851.3px;top:572.1px;font-size:28px;color:#e4e7ea;transform:scaleX(1.055);-webkit-text-stroke:0.8px currentColor;">m3/s</span>
<span class="t" style="left:2654.7px;top:653.4px;font-size:28px;color:#e4e7ea;transform:scaleX(1.081);-webkit-text-stroke:0.8px currentColor;">Altura</span>
<span class="t" style="left:2856.7px;top:655.7px;font-size:28px;color:#e4e7ea;transform:scaleX(1.080);-webkit-text-stroke:0.8px currentColor;">cm</span>
<span class="t" style="left:2654.7px;top:729.9px;font-size:28px;color:#e4e7ea;transform:scaleX(1.067);-webkit-text-stroke:0.8px currentColor;">Distancia del sensor</span>
<span class="t" style="left:2654.7px;top:799.1px;font-size:28px;color:#e4e7ea;transform:scaleX(1.062);-webkit-text-stroke:0.8px currentColor;">Estados de conexión</span>
<span class="t" style="left:2616.0px;top:899.6px;font-size:28px;color:#e4e7ea;transform:scaleX(1.074);-webkit-text-stroke:0.8px currentColor;">Volumen</span>
<span class="t" style="left:2616.0px;top:1005.7px;font-size:28px;color:#e4e7ea;transform:scaleX(1.060);-webkit-text-stroke:0.8px currentColor;">Niveles de alertas</span>
<span class="t" style="left:2616.0px;top:1111.5px;font-size:28px;color:#e4e7ea;letter-spacing:0.32px;-webkit-text-stroke:0.8px currentColor;">Energía</span>
<span class="t" style="left:2616.0px;top:1217.4px;font-size:28px;color:#e4e7ea;transform:scaleX(1.048);-webkit-text-stroke:0.8px currentColor;">Avanzado</span>
<span class="t" style="left:2613.8px;top:1330.5px;font-size:27.5px;color:#c3c9d0;transform:scaleX(1.071);-webkit-text-stroke:0.8px currentColor;">Estaciones a comparar</span>
<span class="t" style="left:2703.0px;top:1450.0px;font-size:23px;color:#e9ebee;font-weight:700;transform:scaleX(0.940);">VER EVENTOS</span>
<span class="t" style="left:2428.6px;top:664.4px;font-size:19px;color:#d6d8db;font-family:'DejaVu Sans', 'Liberation Sans', sans-serif;letter-spacing:-0.19px;-webkit-text-stroke:0.6px currentColor;text-shadow:0 0 2px #1a1f29,0 0 2px #1a1f29;">350 m3/s</span>
<span class="t" style="left:2428.6px;top:754.0px;font-size:19px;color:#d6d8db;font-family:'DejaVu Sans', 'Liberation Sans', sans-serif;letter-spacing:-0.19px;-webkit-text-stroke:0.6px currentColor;text-shadow:0 0 2px #1a1f29,0 0 2px #1a1f29;">300 m3/s</span>
<span class="t" style="left:2428.6px;top:843.3px;font-size:19px;color:#d6d8db;font-family:'DejaVu Sans', 'Liberation Sans', sans-serif;letter-spacing:-0.19px;-webkit-text-stroke:0.6px currentColor;text-shadow:0 0 2px #1a1f29,0 0 2px #1a1f29;">250 m3/s</span>
<span class="t" style="left:2428.6px;top:933.6px;font-size:19px;color:#d6d8db;font-family:'DejaVu Sans', 'Liberation Sans', sans-serif;letter-spacing:-0.19px;-webkit-text-stroke:0.6px currentColor;text-shadow:0 0 2px #1a1f29,0 0 2px #1a1f29;">200 m3/s</span>
<span class="t" style="left:2428.6px;top:1023.0px;font-size:19px;color:#d6d8db;font-family:'DejaVu Sans', 'Liberation Sans', sans-serif;letter-spacing:-0.19px;-webkit-text-stroke:0.6px currentColor;text-shadow:0 0 2px #1a1f29,0 0 2px #1a1f29;">150 m3/s</span>
<span class="t" style="left:2428.6px;top:1112.5px;font-size:19px;color:#d6d8db;font-family:'DejaVu Sans', 'Liberation Sans', sans-serif;letter-spacing:-0.19px;-webkit-text-stroke:0.6px currentColor;text-shadow:0 0 2px #1a1f29,0 0 2px #1a1f29;">100 m3/s</span>
<span class="t" style="left:2440.2px;top:1201.8px;font-size:19px;color:#d6d8db;font-family:'DejaVu Sans', 'Liberation Sans', sans-serif;letter-spacing:-0.14px;-webkit-text-stroke:0.6px currentColor;text-shadow:0 0 2px #1a1f29,0 0 2px #1a1f29;">50 m3/s</span>
<span class="t" style="left:2451.0px;top:1291.3px;font-size:19px;color:#d6d8db;font-family:'DejaVu Sans', 'Liberation Sans', sans-serif;letter-spacing:0.09px;-webkit-text-stroke:0.6px currentColor;text-shadow:0 0 2px #1a1f29,0 0 2px #1a1f29;">0 m3/s</span>
<span class="t" style="left:562.0px;top:1326.7px;font-size:19px;color:#70757d;font-family:'DejaVu Sans', 'Liberation Sans', sans-serif;transform:scaleX(0.945);">20. jun</span>
<span class="t" style="left:675.8px;top:1326.7px;font-size:19px;color:#70757d;font-family:'DejaVu Sans', 'Liberation Sans', sans-serif;transform:scaleX(0.931);">18:00</span>
<span class="t" style="left:810.6px;top:1326.7px;font-size:19px;color:#70757d;font-family:'DejaVu Sans', 'Liberation Sans', sans-serif;transform:scaleX(0.945);">21. jun</span>
<span class="t" style="left:956.4px;top:1326.7px;font-size:19px;color:#70757d;font-family:'DejaVu Sans', 'Liberation Sans', sans-serif;transform:scaleX(0.931);">06:00</span>
<span class="t" style="left:1096.7px;top:1326.7px;font-size:19px;color:#70757d;font-family:'DejaVu Sans', 'Liberation Sans', sans-serif;transform:scaleX(0.931);">12:00</span>
<span class="t" style="left:1237.0px;top:1326.7px;font-size:19px;color:#70757d;font-family:'DejaVu Sans', 'Liberation Sans', sans-serif;transform:scaleX(0.931);">18:00</span>
<span class="t" style="left:1371.8px;top:1326.7px;font-size:19px;color:#70757d;font-family:'DejaVu Sans', 'Liberation Sans', sans-serif;transform:scaleX(0.945);">22. jun</span>
<span class="t" style="left:1517.6px;top:1326.7px;font-size:19px;color:#70757d;font-family:'DejaVu Sans', 'Liberation Sans', sans-serif;transform:scaleX(0.931);">06:00</span>
<span class="t" style="left:1657.9px;top:1326.7px;font-size:19px;color:#70757d;font-family:'DejaVu Sans', 'Liberation Sans', sans-serif;transform:scaleX(0.931);">12:00</span>
<span class="t" style="left:1798.2px;top:1326.7px;font-size:19px;color:#70757d;font-family:'DejaVu Sans', 'Liberation Sans', sans-serif;transform:scaleX(0.931);">18:00</span>
<span class="t" style="left:1933.0px;top:1326.7px;font-size:19px;color:#70757d;font-family:'DejaVu Sans', 'Liberation Sans', sans-serif;transform:scaleX(0.945);">23. jun</span>
<span class="t" style="left:2078.8px;top:1326.7px;font-size:19px;color:#70757d;font-family:'DejaVu Sans', 'Liberation Sans', sans-serif;transform:scaleX(0.931);">06:00</span>
<span class="t" style="left:2470.0px;top:1326.7px;font-size:19px;color:#70757d;font-family:'DejaVu Sans', 'Liberation Sans', sans-serif;transform:scaleX(0.945);">24. jun</span>
<span class="t" style="left:782.4px;top:1432.0px;font-size:19px;color:#9aa1ab;font-family:'DejaVu Sans', 'Liberation Sans', sans-serif;transform:scaleX(0.952);">21. jun</span>
<span class="t" style="left:1167.0px;top:1432.0px;font-size:19px;color:#9aa1ab;font-family:'DejaVu Sans', 'Liberation Sans', sans-serif;transform:scaleX(0.952);">22. jun</span>
<span class="t" style="left:1551.0px;top:1432.0px;font-size:19px;color:#9aa1ab;font-family:'DejaVu Sans', 'Liberation Sans', sans-serif;transform:scaleX(0.952);">23. jun</span>
<span class="t" style="left:1936.0px;top:1432.0px;font-size:19px;color:#9aa1ab;font-family:'DejaVu Sans', 'Liberation Sans', sans-serif;transform:scaleX(0.952);">24. jun</span>
<span class="t" style="left:2322.3px;top:1432.0px;font-size:19px;color:#9aa1ab;font-family:'DejaVu Sans', 'Liberation Sans', sans-serif;transform:scaleX(0.952);">25. jun</span>
<span class="t" style="left:2081.4px;top:538.7px;font-size:21px;color:#d5d9de;font-weight:700;font-family:'DejaVu Sans', 'Liberation Sans', sans-serif;letter-spacing:-0.21px;transform:scaleX(0.840);">Río Aconcagua en Chacabuquito – Caudal</span>
<span class="t" style="left:1703.0px;top:625.4px;font-size:21px;color:#fff;font-weight:700;font-family:'DejaVu Sans', 'Liberation Sans', sans-serif;letter-spacing:-0.04px;transform:scaleX(0.840);">Río Aconcagua en Chacabuquito – Caudal: 375.26 m3/s</span>
<span class="t" style="left:2178.0px;top:1323.9px;font-size:23.5px;color:#fff;font-weight:700;font-family:'DejaVu Sans', 'Liberation Sans', sans-serif;letter-spacing:-0.93px;transform:scaleX(0.840);">23/06/2023 02:00 pm</span>
</div>
</body></html>
